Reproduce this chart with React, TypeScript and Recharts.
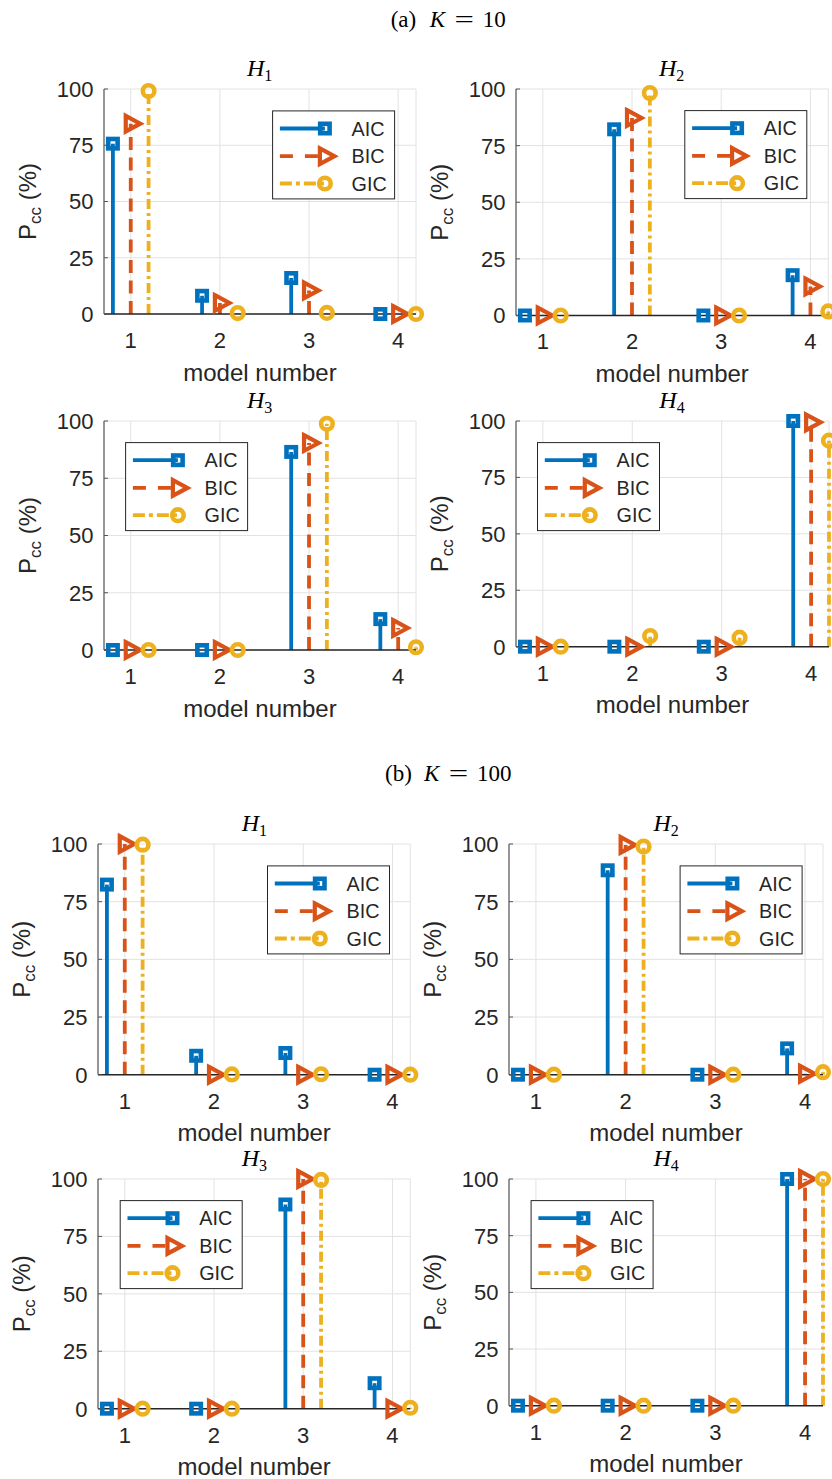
import React from 'react';
import { ScatterChart, Scatter, XAxis, YAxis, CartesianGrid, ReferenceLine } from 'recharts';

// ---------- data ----------
const modelNumbers = [1, 2, 3, 4];
const yTicks = [0, 25, 50, 75, 100];
const criteria = ['AIC', 'BIC', 'GIC'];
const stemOffsets = [-0.2, 0, 0.2];

// (a) K = 10
const k10H1Aic = [75.7, 8.1, 16.0, 0];
const k10H1Bic = [84.6, 4.9, 10.5, 0];
const k10H1Gic = [99.1, 0.4, 0.5, 0];
const k10H2Aic = [0, 82.2, 0, 17.8];
const k10H2Bic = [0, 87.2, 0, 12.8];
const k10H2Gic = [0, 98.2, 0, 1.8];
const k10H3Aic = [0, 0, 86.5, 13.5];
const k10H3Bic = [0, 0, 90.4, 9.6];
const k10H3Gic = [0, 0, 98.8, 1.2];
const k10H4Aic = [0, 0, 0, 100];
const k10H4Bic = [0, 0, 0, 99.4];
const k10H4Gic = [0, 4.7, 4.0, 91.3];

// (b) K = 100
const k100H1Aic = [82.4, 8.2, 9.4, 0];
const k100H1Bic = [100, 0, 0, 0];
const k100H1Gic = [99.7, 0.1, 0.2, 0];
const k100H2Aic = [0, 88.6, 0, 11.4];
const k100H2Bic = [0, 99.6, 0, 0.4];
const k100H2Gic = [0, 98.9, 0, 1.1];
const k100H3Aic = [0, 0, 88.9, 11.1];
const k100H3Bic = [0, 0, 100, 0];
const k100H3Gic = [0, 0, 99.6, 0.4];
const k100H4Aic = [0, 0, 0, 100];
const k100H4Bic = [0, 0, 0, 100];
const k100H4Gic = [0, 0, 0, 100];

// ---------- style ----------
const BLUE = '#0072BD';
const ORANGE = '#D95319';
const YELLOW = '#EDB120';
const colors = [BLUE, ORANGE, YELLOW];
const stemDashes = [undefined, '13 7.5', '10 4 3 4'];
const legendDashes = [undefined, '13 12', '12 4 4 4'];
const SANS = '"Liberation Sans", Arial, Helvetica, sans-serif';
const SERIF = '"Liberation Serif", "Times New Roman", serif';
const TEXT = '#262626';

const SquareMarker = ({ cx, cy }: any) => (
  <rect x={cx - 4.7} y={cy - 4.7} width={9.4} height={9.4} fill="none" stroke={BLUE} strokeWidth={4.6} />
);
const TriangleMarker = ({ cx, cy }: any) => (
  <path d={`M${cx - 5},${cy - 7.8} L${cx + 9.5},${cy} L${cx - 5},${cy + 7.8} Z`} fill="none" stroke={ORANGE} strokeWidth={4.2} strokeLinejoin="miter" />
);
const CircleMarker = ({ cx, cy }: any) => (
  <circle cx={cx} cy={cy} r={5.8} fill="none" stroke={YELLOW} strokeWidth={4.6} />
);
const markers = [SquareMarker, TriangleMarker, CircleMarker];

// ---------- layout ----------
const panels = [
  { key: 'a1', hyp: 1, aic: k10H1Aic, bic: k10H1Bic, gic: k10H1Gic, left: 103.6, top: 89.3, w: 312, h: 225, legend: 'ne' },
  { key: 'a2', hyp: 2, aic: k10H2Aic, bic: k10H2Bic, gic: k10H2Gic, left: 515.5, top: 89, w: 312.3, h: 226.5, legend: 'ne' },
  { key: 'a3', hyp: 3, aic: k10H3Aic, bic: k10H3Bic, gic: k10H3Gic, left: 103.6, top: 421, w: 312, h: 229, legend: 'nw' },
  { key: 'a4', hyp: 4, aic: k10H4Aic, bic: k10H4Bic, gic: k10H4Gic, left: 515.5, top: 421, w: 313, h: 225.7, legend: 'nw' },
  { key: 'b1', hyp: 1, aic: k100H1Aic, bic: k100H1Bic, gic: k100H1Gic, left: 98.2, top: 844.3, w: 312.3, h: 230.7, legend: 'ne' },
  { key: 'b2', hyp: 2, aic: k100H2Aic, bic: k100H2Bic, gic: k100H2Gic, left: 509.1, top: 844.3, w: 314, h: 230.7, legend: 'ne' },
  { key: 'b3', hyp: 3, aic: k100H3Aic, bic: k100H3Bic, gic: k100H3Gic, left: 98.2, top: 1179, w: 312.3, h: 229.7, legend: 'nw' },
  { key: 'b4', hyp: 4, aic: k100H4Aic, bic: k100H4Bic, gic: k100H4Gic, left: 509.1, top: 1179, w: 314, h: 226.7, legend: 'nw' },
];

const ML = 100;
const MT = 60;
const MB = 80;
const MR = 30;
const Y_TICK_GAP = 10.6;

const XTick = ({ x, y, payload }: any) => (
  <text x={x} y={y + 26} dy="0.36em" textAnchor="middle" fontFamily={SANS} fontSize={22} fill={TEXT}>
    {payload.value}
  </text>
);

const YTick = ({ x, y, payload }: any) => (
  <g>
    <line x1={x + Y_TICK_GAP} x2={x + Y_TICK_GAP + 4} y1={y} y2={y} stroke="#555" strokeWidth={1} />
    <text x={x} y={y} dy="0.36em" textAnchor="end" fontFamily={SANS} fontSize={22} fill={TEXT}>
      {payload.value}
    </text>
  </g>
);

const XLabel = (props: any) => {
  const vb = props.viewBox || {};
  return (
    <text x={vb.x + vb.width / 2} y={vb.y + 58} dy="0.36em" textAnchor="middle" fontFamily={SANS} fontSize={24} fill={TEXT}>
      model number
    </text>
  );
};

const YLabel = (props: any) => {
  const vb = props.viewBox || {};
  const cx = vb.x + vb.width - 76.6;
  const cy = vb.y + vb.height / 2;
  return (
    <text transform={`translate(${cx},${cy}) rotate(-90)`} x={0} y={0} dy="0.36em" textAnchor="middle" fontFamily={SANS} fontSize={24} fill={TEXT}>
      <tspan>P</tspan>
      <tspan fontSize={17} dy={5}>cc</tspan>
      <tspan dy={-5}> (%)</tspan>
    </text>
  );
};

function Panel({ p }: any) {
  const width = ML + p.w + MR;
  const height = MT + p.h + MB;
  const series = [p.aic, p.bic, p.gic];
  const pts = series.map((vals: number[], s: number) =>
    vals.map((v, i) => ({ x: modelNumbers[i] + stemOffsets[s], y: v }))
  );
  return (
    <div style={{ position: 'absolute', left: p.left - ML, top: p.top - MT }}>
      <ScatterChart width={width} height={height} margin={{ top: MT, right: MR, bottom: 0, left: 0 }} style={{ overflow: 'visible' }}>
        <CartesianGrid stroke="#e2e2e2" strokeWidth={1} />
        <XAxis
          type="number"
          dataKey="x"
          domain={[0.7, 4.2]}
          ticks={modelNumbers}
          interval={0}
          height={MB}
          axisLine={{ stroke: '#262626', strokeWidth: 1.5 }}
          tickLine={false}
          tickSize={0}
          tickMargin={0}
          tick={XTick}
          label={XLabel}
        />
        <YAxis
          type="number"
          dataKey="y"
          domain={[0, 100]}
          ticks={yTicks}
          interval={0}
          width={ML}
          axisLine={{ stroke: '#5a5a5a', strokeWidth: 1.2 }}
          tickLine={false}
          tickSize={0}
          tickMargin={Y_TICK_GAP}
          tick={YTick}
          label={YLabel}
        />
        {pts.map((arr: any[], s: number) =>
          arr.map((pt: any, i: number) => (
            <ReferenceLine
              key={`stem-${s}-${i}`}
              segment={[{ x: pt.x, y: 0 }, { x: pt.x, y: pt.y }]}
              stroke={colors[s]}
              strokeWidth={3.8}
              strokeDasharray={stemDashes[s]}
              ifOverflow="visible"
            />
          ))
        )}
        {pts.map((arr: any[], s: number) => {
          const M = markers[s];
          return (
            <Scatter
              key={`sc-${s}`}
              name={criteria[s]}
              data={arr}
              isAnimationActive={false}
              shape={(props: any) => <M cx={props.cx} cy={props.cy} />}
            />
          );
        })}
      </ScatterChart>
    </div>
  );
}

const LEG_W = 122;
const LEG_H = 88;
const legendRows = [17.6, 45.3, 72.6];

function LegendBox({ x, y }: { x: number; y: number }) {
  return (
    <g>
      <rect x={x} y={y} width={LEG_W} height={LEG_H} fill="#ffffff" stroke={TEXT} strokeWidth={1} />
      {criteria.map((name, s) => {
        const ry = y + legendRows[s];
        const M = markers[s];
        return (
          <g key={name}>
            <line x1={x + 7.3} x2={x + 52.3} y1={ry} y2={ry} stroke={colors[s]} strokeWidth={3.8} strokeDasharray={legendDashes[s]} />
            <M cx={x + 52.3} cy={ry} />
            <text x={x + 79} y={ry} dy="0.36em" fontFamily={SANS} fontSize={19.8} fill={TEXT}>
              {name}
            </text>
          </g>
        );
      })}
    </g>
  );
}

function Heading({ x, y, tag, k }: any) {
  return (
    <g fontFamily={SERIF} fontSize={23} fill="#000">
      <text x={x} y={y}>{`(${tag})`}</text>
      <text x={x + 39} y={y} fontStyle="italic">K</text>
      <text transform={`translate(${x + 73.5},${y}) scale(1.5,1)`} x={0} y={0} textAnchor="middle">=</text>
      <text x={x + 92} y={y}>{k}</text>
    </g>
  );
}

export default function App() {
  return (
    <div style={{ position: 'absolute', left: 0, top: 0, width: 832, height: 1479, overflow: 'hidden', background: '#fff' }}>
      {panels.map((p) => (
        <Panel key={p.key} p={p} />
      ))}
      <svg width={832} height={1479} style={{ position: 'absolute', left: 0, top: 0, pointerEvents: 'none' }}>
        <Heading x={390.7} y={26.7} tag="a" k="10" />
        <Heading x={385} y={780.5} tag="b" k="100" />
        {panels.map((p) => {
          const lx = p.legend === 'ne' ? p.left + p.w - 21 - LEG_W : p.left + 22;
          const ly = p.top + 21.6;
          return (
            <g key={`ov-${p.key}`}>
              <text x={p.left + p.w / 2} y={p.top - 13} textAnchor="middle" fontFamily={SERIF} fontSize={24} fill="#000">
                <tspan fontStyle="italic">H</tspan>
                <tspan fontSize={16} dy={4.5}>{p.hyp}</tspan>
              </text>
              <LegendBox x={lx} y={ly} />
            </g>
          );
        })}
      </svg>
    </div>
  );
}
